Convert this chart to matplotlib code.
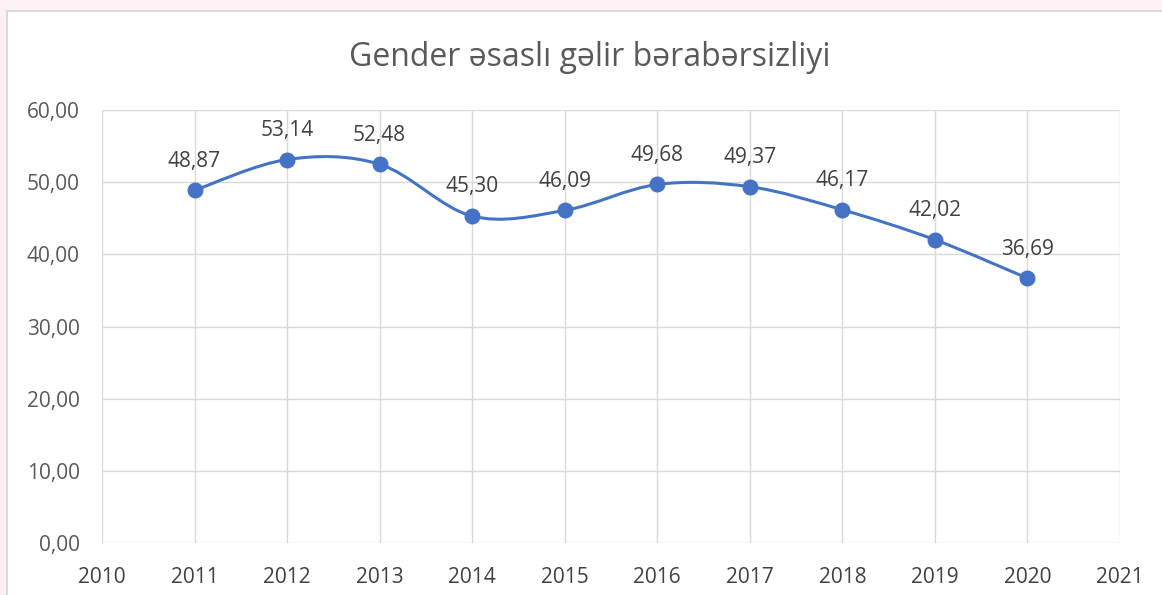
import numpy as np
import matplotlib
matplotlib.use("Agg")
import matplotlib.pyplot as plt
from matplotlib.patches import Rectangle
from matplotlib.path import Path
from matplotlib.patches import PathPatch

years = [2011, 2012, 2013, 2014, 2015, 2016, 2017, 2018, 2019, 2020]
values = [48.87, 53.14, 52.48, 45.30, 46.09, 49.68, 49.37, 46.17, 42.02, 36.69]
x_ticks = list(range(2010, 2022))
y_ticks = [0, 10, 20, 30, 40, 50, 60]
title = "Gender əsaslı gəlir bərabərsizliyi"

plt.rcParams['font.family'] = ['Open Sans', 'DejaVu Sans']

W, H = 1162, 595
fig = plt.figure(figsize=(W / 100, H / 100), dpi=100)
fig.patch.set_facecolor('#fdf1f4')
fig.patches.append(Rectangle((7 / W, -0.01), 1.0, (H - 11) / H + 0.01,
                             transform=fig.transFigure, facecolor='white',
                             edgecolor='#d9d9d9', linewidth=1.5, zorder=-5))

ax = fig.add_axes([102 / W, (H - 543) / H, (1120 - 102) / W, (543 - 110) / H])
ax.set_zorder(2)
ax.set_facecolor('none')
ax.set_xlim(2010, 2021)
ax.set_ylim(0, 60)
ax.set_xticks(x_ticks)
ax.set_yticks(y_ticks)
ax.set_yticklabels([f"{v:.2f}".replace('.', ',') for v in y_ticks])
ax.grid(True, color='#d9d9d9', linewidth=1.0)
ax.set_axisbelow(True)
for s in ax.spines.values():
    s.set_visible(False)
ax.tick_params(length=0)
ax.tick_params(axis='y', pad=16, labelsize=15, labelcolor='#595959')
ax.tick_params(axis='x', pad=17, labelsize=15, labelcolor='#404040')

# Excel-like smoothed line (Catmull-Rom as cubic Bezier)
xs = np.array(years, dtype=float)
ys = np.array(values, dtype=float)
n = len(xs)
verts = [(xs[0], ys[0])]
codes = [Path.MOVETO]
for i in range(n - 1):
    p0 = (xs[max(i - 1, 0)], ys[max(i - 1, 0)])
    p1 = (xs[i], ys[i])
    p2 = (xs[i + 1], ys[i + 1])
    p3 = (xs[min(i + 2, n - 1)], ys[min(i + 2, n - 1)])
    c1 = (p1[0] + (p2[0] - p0[0]) / 6, p1[1] + (p2[1] - p0[1]) / 6)
    c2 = (p2[0] - (p3[0] - p1[0]) / 6, p2[1] - (p3[1] - p1[1]) / 6)
    verts += [c1, c2, p2]
    codes += [Path.CURVE4] * 3
ax.add_patch(PathPatch(Path(verts, codes), facecolor='none',
                       edgecolor='#4472c4', linewidth=2.2, zorder=3))
ax.plot(years, values, linestyle='none', marker='o', markersize=10.5,
        color='#4472c4', zorder=4)

for x, y in zip(years, values):
    ax.annotate(f"{y:.2f}".replace('.', ','), (x, y), xytext=(0, 17),
                textcoords='offset points', ha='center', va='baseline',
                fontsize=15, color='#404040', zorder=5)

fig.text(590 / W, 1 - 58 / H, title, ha='center', va='center',
         fontsize=23, color='#595959')

fig.savefig('out.png', dpi=100, facecolor=fig.get_facecolor())
